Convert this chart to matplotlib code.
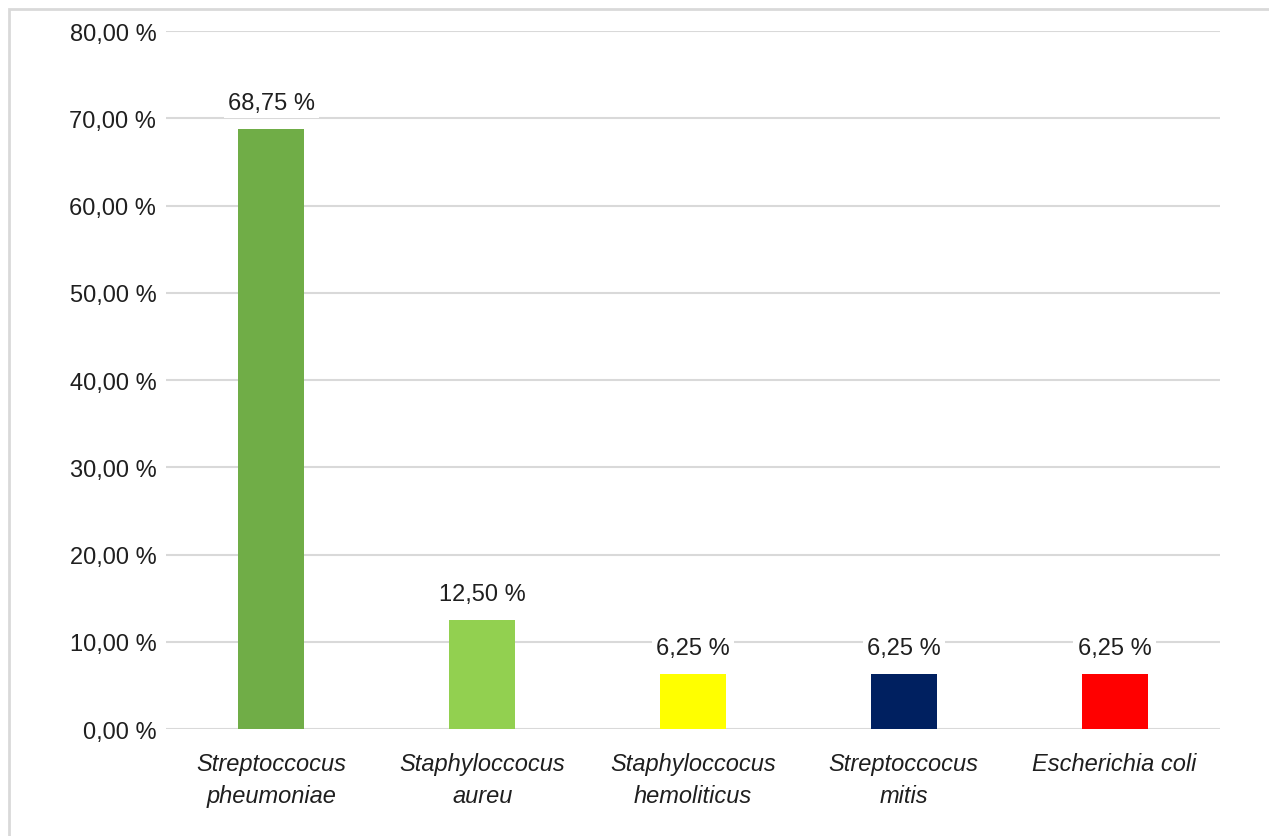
import matplotlib.pyplot as plt
from matplotlib.patches import Rectangle

plt.rcParams['font.family'] = ['Liberation Sans', 'DejaVu Sans']

categories = ["Streptoccocus\npheumoniae", "Staphyloccocus\naureu",
              "Staphyloccocus\nhemoliticus", "Streptoccocus\nmitis",
              "Escherichia coli"]
values = [68.75, 12.50, 6.25, 6.25, 6.25]
colors = ["#70AD47", "#92D050", "#FFFF00", "#002060", "#FF0000"]
yticks = [0, 10, 20, 30, 40, 50, 60, 70, 80]


def pct(v):
    return f"{v:.2f}".replace(".", ",") + " %"


fig = plt.figure(figsize=(12.69, 8.37), dpi=100)
# light frame around the chart area (runs off the right and bottom edges)
fig.patches.append(Rectangle((9 / 1269, -0.1), 1.2, 1 - 10 / 837 + 0.1,
                             transform=fig.transFigure, fill=False,
                             edgecolor="#d9d9d9", linewidth=2))

ax = fig.add_axes([166 / 1269, 1 - 730 / 837, (1220 - 166) / 1269, (730 - 32) / 837])
x = range(len(values))
bars = ax.bar(x, values, width=0.313, color=colors, zorder=3)

ax.set_xlim(-0.5, len(values) - 0.5)
ax.set_ylim(0, 80)
ax.set_yticks(yticks)
ax.set_yticklabels([pct(v) for v in yticks], fontsize=17, color="#1f1f1f")
ax.set_xticks(list(x))
ax.set_xticklabels(categories, fontsize=17, style="italic", color="#1f1f1f",
                   linespacing=1.5)
ax.tick_params(axis="both", length=0)
ax.tick_params(axis="y", pad=7)
ax.tick_params(axis="x", pad=16.5)
ax.grid(axis="y", color="#d9d9d9", linewidth=1.5, zorder=0)
for s in ax.spines.values():
    s.set_visible(False)

for b, v in zip(bars, values):
    ax.annotate(pct(v), (b.get_x() + b.get_width() / 2, v), xytext=(0, 19),
                textcoords="offset points", ha="center", va="center",
                fontsize=17, color="#1f1f1f", zorder=4,
                bbox=dict(facecolor="white", edgecolor="none", pad=3))

fig.savefig("out.png", dpi=100, facecolor="white")
